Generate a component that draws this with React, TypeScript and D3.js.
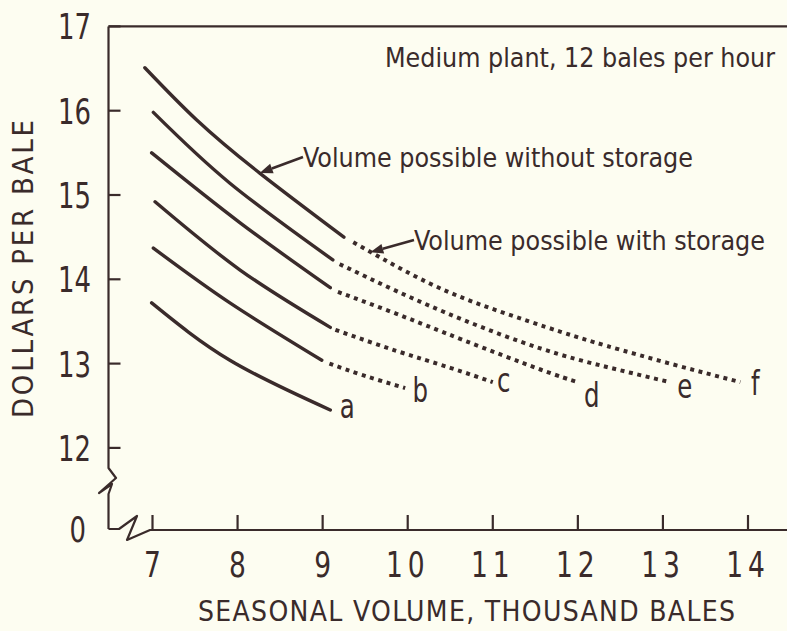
import React from 'react';
import * as d3 from 'd3';

const W = 787;
const H = 631;

// Axis ticks
const xTicks = [7, 8, 9, 10, 11, 12, 13, 14];
const yTicks = [12, 13, 14, 15, 16, 17];

// Curve labels
const curveLabels = ['a', 'b', 'c', 'd', 'e', 'f'];

// Volume possible without storage (solid), [thousand bales, dollars per bale]
const solidA = [[6.99, 13.72], [7.91, 13.04], [9.09, 12.45]];
const solidB = [[7.01, 14.37], [7.91, 13.72], [8.99, 13.04]];
const solidC = [[7.03, 14.92], [8.03, 14.11], [9.09, 13.43]];
const solidD = [[6.99, 15.5], [8.03, 14.67], [9.09, 13.9]];
const solidE = [[7.01, 15.98], [7.91, 15.14], [9.12, 14.23]];
const solidF = [[6.91, 16.51], [7.52, 15.89], [8.26, 15.26], [9.25, 14.5]];

// Volume possible with storage (dotted)
const dottedA: number[][] = [];
const dottedB = [[9.08, 13.0], [9.48, 12.86], [9.97, 12.71]];
const dottedC = [[9.15, 13.4], [9.87, 13.15], [10.5, 12.95], [11.0, 12.78]];
const dottedD = [[9.18, 13.85], [9.87, 13.59], [10.65, 13.28], [11.56, 12.93], [12.0, 12.78]];
const dottedE = [[9.2, 14.18], [9.87, 13.86], [10.65, 13.52], [11.56, 13.18], [12.34, 12.96], [13.08, 12.78]];
const dottedF = [[9.36, 14.44], [10.26, 13.95], [11.05, 13.63], [11.79, 13.38], [12.34, 13.21], [13.12, 12.99], [13.91, 12.78]];

const solids = [solidA, solidB, solidC, solidD, solidE, solidF];
const dotteds = [dottedA, dottedB, dottedC, dottedD, dottedE, dottedF];

// Arrow anchor points on curve f (data units)
const arrowWithout = [8.26, 15.26];
const arrowWith = [9.56, 14.32];

const INK = '#3a2b2b';
const BG = '#fdfdf1';
const FONT = "'Liberation Sans Narrow', 'DejaVu Sans Condensed', 'Open Sans', sans-serif";

const x = d3.scaleLinear().domain([7, 14]).range([152.5, 748]);
const y = d3.scaleLinear().domain([12, 17]).range([447.9, 26.4]);
const Y0 = 529; // position of the zero baseline (below axis break)
const AXIS_X = 108.5;

const line = d3
  .line<number[]>()
  .x((d) => x(d[0]))
  .y((d) => y(d[1]))
  .curve(d3.curveNatural);

// label offsets (pixels) relative to each curve's end
const labelOffsets = [
  [17, 8],
  [15, 14],
  [11, 10],
  [14, 25],
  [15, 16],
  [15, 13],
];

function Arrow({ x1, y1, x2, y2 }: { x1: number; y1: number; x2: number; y2: number }) {
  const ang = Math.atan2(y2 - y1, x2 - x1);
  const L = 13;
  const Wd = 5;
  const bx = x2 - L * Math.cos(ang);
  const by = y2 - L * Math.sin(ang);
  const px = -Math.sin(ang) * Wd;
  const py = Math.cos(ang) * Wd;
  return (
    <g>
      <line x1={x1} y1={y1} x2={bx} y2={by} stroke={INK} strokeWidth={2.6} />
      <path d={`M${x2},${y2} L${bx + px},${by + py} L${bx - px},${by - py} Z`} fill={INK} />
    </g>
  );
}

// narrow text helper: horizontally condensed glyphs
function NText({
  x0,
  y0,
  size,
  anchor,
  sx,
  children,
}: {
  x0: number;
  y0: number;
  size: number;
  anchor: 'start' | 'middle' | 'end';
  sx: number;
  children: React.ReactNode;
}) {
  return (
    <text
      transform={`translate(${x0},${y0}) scale(${sx},1)`}
      textAnchor={anchor}
      fontSize={size}
      fill={INK}
    >
      {children}
    </text>
  );
}

export default function App() {
  const tipW = [x(arrowWithout[0]), y(arrowWithout[1])];
  const tipS = [x(arrowWith[0]), y(arrowWith[1])];
  return (
    <svg
      width={W}
      height={H}
      viewBox={`0 0 ${W} ${H}`}
      style={{ position: 'absolute', left: 0, top: 0, background: BG }}
      fontFamily={FONT}
    >
      <rect x={0} y={0} width={W} height={H} fill={BG} />

      {/* frame: top line */}
      <line x1={AXIS_X} y1={y(17)} x2={W} y2={y(17)} stroke={INK} strokeWidth={2.2} />
      {/* y axis with break */}
      <path
        d={`M${AXIS_X},${y(17)} L${AXIS_X},468 L116,478 L99,493 L112,484 L${AXIS_X},494 L${AXIS_X},${Y0}`}
        fill="none"
        stroke={INK}
        strokeWidth={2.2}
        strokeLinejoin="round"
      />
      {/* x axis with break */}
      <path
        d={`M${AXIS_X},${Y0} L119,${Y0} L137,516 L127,540 L150,${Y0 + 1} L${W},${Y0 + 1}`}
        fill="none"
        stroke={INK}
        strokeWidth={2.2}
        strokeLinejoin="round"
      />

      {/* y ticks */}
      {yTicks.map((t) => (
        <g key={`yt${t}`}>
          <line x1={AXIS_X} x2={AXIS_X + 12} y1={y(t)} y2={y(t)} stroke={INK} strokeWidth={2.2} />
          <NText x0={91} y0={y(t) + 13} size={36} anchor="end" sx={0.8}>
            {t}
          </NText>
        </g>
      ))}
      <NText x0={86} y0={Y0 + 13} size={36} anchor="end" sx={0.8}>
        0
      </NText>

      {/* x ticks */}
      {xTicks.map((t) => (
        <g key={`xt${t}`}>
          <line x1={x(t)} x2={x(t)} y1={Y0 + 1} y2={Y0 - 14} stroke={INK} strokeWidth={2.2} />
          <text
            transform={`translate(${x(t)},577) scale(0.82,1)`}
            textAnchor="middle"
            fontSize={36}
            letterSpacing={t >= 10 ? 6 : 0}
            fill={INK}
          >
            {t}
          </text>
        </g>
      ))}

      {/* axis titles */}
      <text
        x={198}
        y={621}
        fontSize={28}
        fill={INK}
        textLength={537}
        lengthAdjust="spacing"
      >
        SEASONAL VOLUME, THOUSAND BALES
      </text>
      <text
        transform="translate(33,418) rotate(-90)"
        x={0}
        y={0}
        fontSize={29}
        fill={INK}
        textLength={298}
        lengthAdjust="spacing"
      >
        DOLLARS PER BALE
      </text>

      {/* curves */}
      {solids.map((s, i) => (
        <path
          key={`s${i}`}
          d={line(s) || ''}
          fill="none"
          stroke={INK}
          strokeWidth={3.4}
          strokeLinecap="round"
        />
      ))}
      {dotteds.map((s, i) =>
        s.length ? (
          <path
            key={`d${i}`}
            d={line(s) || ''}
            fill="none"
            stroke={INK}
            strokeWidth={4}
            strokeDasharray="4 4.6"
          />
        ) : null
      )}

      {/* curve labels */}
      {curveLabels.map((lab, i) => {
        const arr = dotteds[i].length ? dotteds[i] : solids[i];
        const end = arr[arr.length - 1];
        return (
          <NText
            key={`l${lab}`}
            x0={x(end[0]) + labelOffsets[i][0]}
            y0={y(end[1]) + labelOffsets[i][1]}
            size={34}
            anchor="middle"
            sx={0.8}
          >
            {lab}
          </NText>
        );
      })}

      {/* annotations */}
      <Arrow x1={303} y1={157} x2={tipW[0]} y2={tipW[1]} />
      <text x={303} y={167} fontSize={26} fill={INK} textLength={390} lengthAdjust="spacingAndGlyphs">
        Volume possible without storage
      </text>
      <Arrow x1={414} y1={240} x2={tipS[0]} y2={tipS[1]} />
      <text x={414} y={250} fontSize={26} fill={INK} textLength={351} lengthAdjust="spacingAndGlyphs">
        Volume possible with storage
      </text>
      <text x={385} y={67} fontSize={27} fill={INK} textLength={390} lengthAdjust="spacingAndGlyphs">
        Medium plant, 12 bales per hour
      </text>
    </svg>
  );
}
